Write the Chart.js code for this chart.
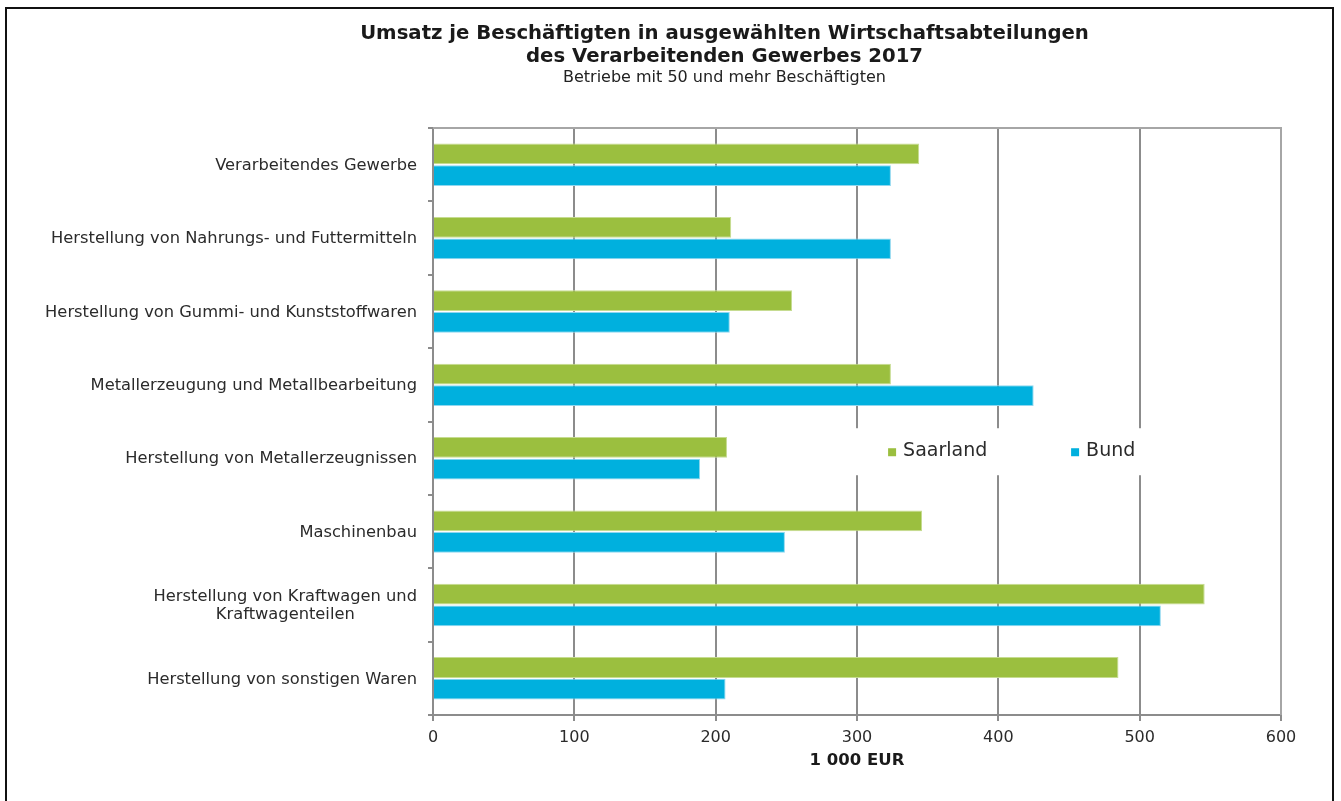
<!DOCTYPE html>
<html>
<head>
<meta charset="utf-8">
<script src="https://cdn.jsdelivr.net/npm/chart.js@4"></script>
<style>
  body { margin: 0; background: #fff; }
  canvas { display: block; }
</style>
</head>
<body>
<canvas id="umsatzChart" width="1341" height="801"></canvas>
<script>
// Daten (1 000 EUR)
const categories = [
  'Verarbeitendes Gewerbe',
  'Herstellung von Nahrungs- und Futtermitteln',
  'Herstellung von Gummi- und Kunststoffwaren',
  'Metallerzeugung und Metallbearbeitung',
  'Herstellung von Metallerzeugnissen',
  'Maschinenbau',
  ['Herstellung von Kraftwagen und', 'Kraftwagenteilen'],
  'Herstellung von sonstigen Waren'
];
const saarland = [344, 211, 254, 324, 208, 346, 546, 485];
const bund = [324, 324, 210, 425, 189, 249, 515, 207];
const xTicks = [0, 100, 200, 300, 400, 500, 600];

const FONT = "'DejaVu Sans', Verdana, sans-serif";
const GRID = '#8c8c8c';

// Rahmen um die ganze Grafik + obere/rechte Kante des Diagrammbereichs
const framePlugin = {
  id: 'frame',
  beforeDraw(chart) {
    const ctx = chart.ctx;
    ctx.save();
    ctx.fillStyle = '#fff';
    ctx.fillRect(0, 0, chart.width, chart.height);
    ctx.strokeStyle = '#111';
    ctx.lineWidth = 2;
    ctx.strokeRect(6, 8, 1327, 820);
    ctx.restore();
  },
  beforeDatasetsDraw(chart) {
    const a = chart.chartArea;
    const ctx = chart.ctx;
    ctx.save();
    ctx.strokeStyle = '#a6a6a6';
    ctx.lineWidth = 2;
    ctx.beginPath();
    ctx.moveTo(a.left, a.top);
    ctx.lineTo(a.right, a.top);
    ctx.lineTo(a.right, a.bottom);
    ctx.stroke();
    ctx.restore();
  }
};

// Kategorienbeschriftung (mehrzeilig zentriert wie im Original)
const yLabelPlugin = {
  id: 'yLabels',
  afterDraw(chart) {
    const ctx = chart.ctx;
    const yScale = chart.scales.y;
    const right = yScale.right - 16;
    ctx.save();
    ctx.font = '16.3px ' + FONT;
    ctx.fillStyle = '#2b2b2b';
    ctx.textBaseline = 'middle';
    categories.forEach((label, i) => {
      const y = yScale.getPixelForValue(i) + 1;
      if (Array.isArray(label)) {
        const maxW = Math.max(...label.map(l => ctx.measureText(l).width));
        const cx = right - maxW / 2;
        const lh = 18;
        ctx.textAlign = 'center';
        label.forEach((l, k) => {
          ctx.fillText(l, cx, y + (k - (label.length - 1) / 2) * lh);
        });
      } else {
        ctx.textAlign = 'right';
        ctx.fillText(label, right, y);
      }
    });
    ctx.restore();
  }
};

// Legende im Diagrammbereich mit weissem Hintergrund
const legendPlugin = {
  id: 'innerLegend',
  afterDatasetsDraw(chart) {
    const ctx = chart.ctx;
    const xScale = chart.scales.x;
    const yScale = chart.scales.y;
    const cy = yScale.getPixelForValue(4) - 7;
    const x0 = xScale.getPixelForValue(322);
    ctx.save();
    ctx.fillStyle = '#fff';
    ctx.fillRect(x0 - 40, cy - 23, 315, 47);
    ctx.font = '19px ' + FONT;
    ctx.textBaseline = 'middle';
    ctx.textAlign = 'left';
    const offsets = [0, 183];
    chart.data.datasets.forEach((ds, i) => {
      const x = x0 + offsets[i];
      ctx.fillStyle = ds.backgroundColor;
      ctx.fillRect(x, cy - 3, 8, 8);
      ctx.fillStyle = '#2b2b2b';
      ctx.fillText(ds.label, x + 15, cy);
    });
    ctx.restore();
  }
};

const ctx = document.getElementById('umsatzChart').getContext('2d');
new Chart(ctx, {
  type: 'bar',
  data: {
    labels: categories,
    datasets: [{
      label: 'Saarland',
      data: saarland,
      backgroundColor: '#9bbf3f',
      borderColor: '#c6dc91',
      borderWidth: 1,
      barPercentage: 0.96,
      categoryPercentage: 0.59
    }, {
      label: 'Bund',
      data: bund,
      backgroundColor: '#00b0de',
      borderColor: '#8fd7ef',
      borderWidth: 1,
      barPercentage: 0.96,
      categoryPercentage: 0.59
    }]
  },
  options: {
    indexAxis: 'y',
    responsive: false,
    animation: false,
    devicePixelRatio: 1,
    layout: {
      padding: { left: 168, right: 60, top: 0, bottom: 0 }
    },
    scales: {
      x: {
        min: xTicks[0],
        max: xTicks[xTicks.length - 1],
        afterBuildTicks(scale) {
          scale.ticks = xTicks.map(v => ({ value: v }));
        },
        afterFit(scale) {
          scale.height = 86;
        },
        ticks: {
          font: { family: FONT, size: 16 },
          color: '#2b2b2b',
          padding: 7.5
        },
        grid: {
          color: GRID,
          lineWidth: 2,
          tickLength: 6
        },
        border: { display: true, color: GRID, width: 2 },
        title: {
          display: true,
          text: '1 000 EUR',
          font: { family: FONT, size: 16.5, weight: 'bold' },
          color: '#1a1a1a',
          padding: { top: 0, bottom: 30 }
        }
      },
      y: {
        ticks: { display: false },
        grid: {
          offset: true,
          drawOnChartArea: false,
          color: GRID,
          lineWidth: 2,
          tickLength: 5
        },
        border: { display: true, color: GRID, width: 2 },
        afterFit(scale) {
          scale.width = 265;
        }
      }
    },
    plugins: {
      legend: { display: false },
      tooltip: { enabled: false },
      title: {
        display: true,
        text: ['Umsatz je Beschäftigten in ausgewählten Wirtschaftsabteilungen',
               'des Verarbeitenden Gewerbes 2017'],
        font: { family: FONT, size: 19.7, weight: 'bold', lineHeight: 1.17 },
        color: '#1a1a1a',
        padding: { top: 22, bottom: 0 }
      },
      subtitle: {
        display: true,
        text: 'Betriebe mit 50 und mehr Beschäftigten',
        font: { family: FONT, size: 16, lineHeight: 1.1 },
        color: '#222',
        padding: { top: 0.7, bottom: 41.7 }
      }
    }
  },
  plugins: [framePlugin, yLabelPlugin, legendPlugin]
});
</script>
</body>
</html>
